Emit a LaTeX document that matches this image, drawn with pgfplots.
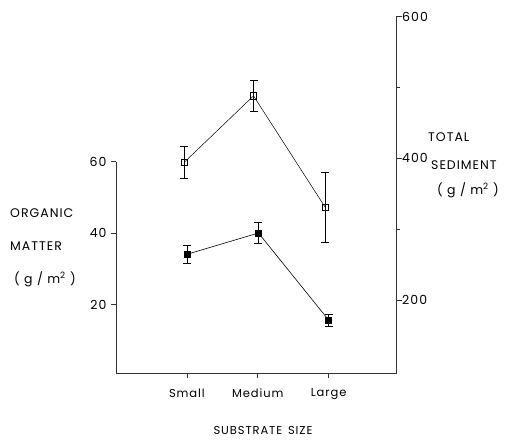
\documentclass[border=0pt]{standalone}
\usepackage{fontspec}
\setmainfont{Poppins}[LetterSpace=8]
\usepackage{pgfplots}
\pgfplotsset{compat=1.18}
\begin{document}
\begin{tikzpicture}
\useasboundingbox (0pt,0pt) rectangle (510pt,439pt);
\pgfplotsset{every axis/.append style={
  scale only axis, width=280.7pt, xmin=0, xmax=3.96,
  /pgf/number format/assume math mode=true,
  yticklabel style={font=\fontsize{12.5}{14}\selectfont},
  xticklabel style={font=\fontsize{11.5}{13}\selectfont},
  tick align=outside, major tick length=5pt, minor tick length=3pt,
  axis line style={line width=0.8pt, black!80},
  tick style={line width=0.7pt, black!80},
}}
% left axis: organic matter
\begin{axis}[at={(116pt,66pt)}, anchor=south west, height=211.3pt,
  ymin=0.9, ymax=60,
  axis x line*=bottom, axis y line*=left,
  xtick={1,2,3}, xticklabels={Small,Medium,Large},
  xticklabel style={yshift=-7pt},
  ytick={20,40,60},
  yticklabel style={xshift=-1pt},
  clip=false]
\addplot[black, line width=0.6pt, mark=square*, mark size=3pt,
  mark options={solid, fill=black},
  error bars/.cd, y dir=both, y explicit,
  error bar style={line width=0.6pt},
  error mark options={rotate=90, mark size=4pt, line width=0.6pt}]
  coordinates {
  (1.00,34.1) +- (0,2.6)
  (2.01,40.05) +- (0,3.0)
  (3.00,15.7) +- (0,1.7)
  };
\end{axis}
% right axis: total sediment
\begin{axis}[at={(116pt,66pt)}, anchor=south west, height=356.5pt,
  ymin=97, ymax=600,
  axis x line=none, axis y line*=right,
  ytick={200,400,600}, minor ytick={300,500},
  yticklabel style={xshift=-3pt},
  clip=false]
\addplot[black, line width=0.5pt, mark=square, mark size=3.2pt,
  mark options={solid, fill=white, line width=0.6pt},
  error bars/.cd, y dir=both, y explicit,
  error bar style={line width=0.6pt},
  error mark options={rotate=90, mark size=4pt, line width=0.6pt}]
  coordinates {
  (0.96,394) +- (0,23)
  (1.94,488) +- (0,22)
  (2.95,331) +- (0,49)
  };
\end{axis}
\begin{scope}[every node/.style={font=\fontsize{12.5}{14}\selectfont, inner sep=0pt}]
\node[anchor=west] at (10pt,226pt) {ORGANIC};
\node[anchor=west] at (10pt,193pt) {MATTER};
\node[anchor=west] at (14pt,160pt) {( g / m\textsuperscript{2} )};
\node[anchor=west] at (428pt,302pt) {TOTAL};
\node[anchor=west] at (431pt,274pt) {SEDIMENT};
\node[anchor=west] at (437pt,249pt) {( g / m\textsuperscript{2} )};
\node[font=\fontsize{11.5}{13}\selectfont] at (263pt,9pt) {SUBSTRATE\enspace SIZE};
\end{scope}
\end{tikzpicture}
\end{document}
